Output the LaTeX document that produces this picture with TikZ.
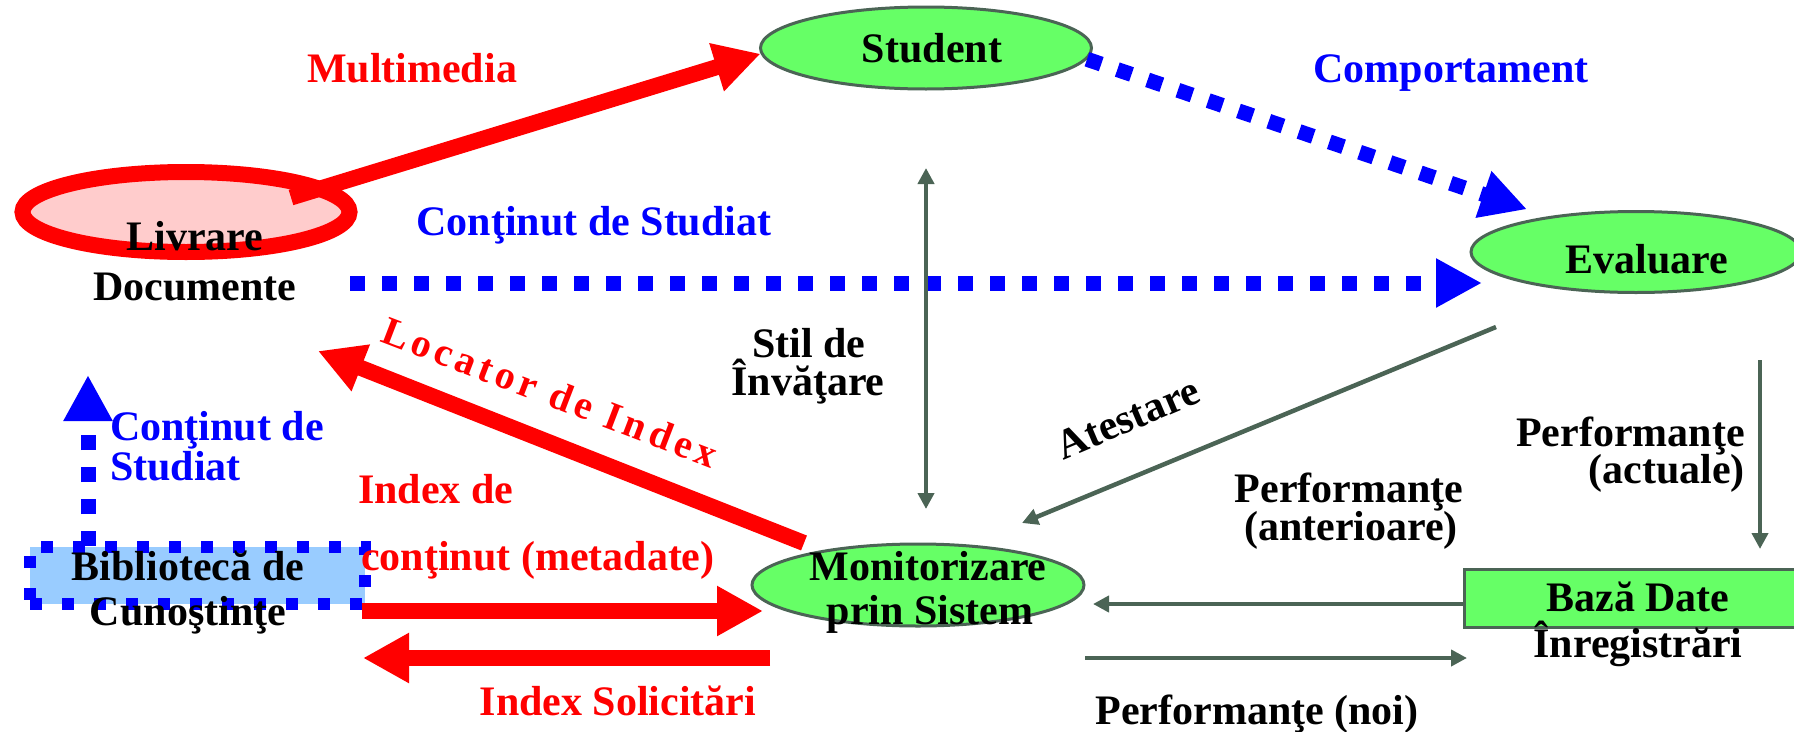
\documentclass[tikz,border=0pt]{standalone}
\usepackage{fontspec}
\setmainfont{Liberation Serif}
\usetikzlibrary{shapes.geometric,arrows.meta}
\definecolor{grfill}{RGB}{102,255,102}
\definecolor{grline}{RGB}{75,100,85}
\definecolor{pinkfill}{RGB}{255,204,204}
\definecolor{bluefill}{RGB}{153,204,255}
\definecolor{myred}{RGB}{255,0,0}
\definecolor{myblue}{RGB}{0,0,255}
\begin{document}
\begin{tikzpicture}[x=1pt,y=-1pt,
  txt/.style={inner sep=0pt,anchor=base,font=\fontsize{42}{46}\selectfont\bfseries},
  redtxt/.style={txt,text=myred},
  bluetxt/.style={txt,text=myblue},
  greenell/.style={ellipse,draw=grline,line width=3pt,fill=grfill,inner sep=0pt},
  redarrow/.style={draw=myred,line width=16pt,-{Triangle[length=46pt,width=47pt]}},
  bluedots/.style={draw=myblue,line width=15pt,dash pattern=on 15pt off 17pt,-{Triangle[length=46pt,width=46pt]}},
  grayarrow/.style={draw=grline,line width=4.5pt,-{Triangle[length=16pt,width=16pt]}}
]
\useasboundingbox (0,0) rectangle (1794,731);

% shapes
\node[ellipse,draw=myred,line width=16pt,fill=pinkfill,inner sep=0pt,minimum width=327pt,minimum height=80pt] (livrare) at (186,212) {};
\node[greenell,minimum width=331pt,minimum height=82pt] (student) at (926,48) {};
\node[greenell,minimum width=330pt,minimum height=81pt] (evaluare) at (1636,252) {};
\node[greenell,minimum width=332pt,minimum height=82pt] (monitor) at (918,585) {};
\node[rectangle,draw=grline,line width=3pt,fill=grfill,inner sep=0pt,minimum width=335pt,minimum height=58pt] (baza) at (1632,598) {};
\node[rectangle,draw=myblue,line width=12pt,dash pattern=on 12pt off 20pt,fill=bluefill,inner sep=0pt,minimum width=335pt,minimum height=57pt] (biblio) at (197.5,575.5) {};

% connector end points
\coordinate (lvS) at (291,197.5);
\coordinate (csA) at (350,283);
\coordinate (csB) at (1482,283);
\coordinate (bvA) at (88,546);
\coordinate (bvB) at (88,375);
\coordinate (svA) at (926,168);
\coordinate (svB) at (926,509);
\coordinate (atA) at (1496,327);
\coordinate (atB) at (1022,523);
\coordinate (paA) at (1760,360);
\coordinate (paB) at (1760,549);
\coordinate (bmA) at (1465,604);
\coordinate (bmB) at (1093,604);
\coordinate (mbA) at (1085,658);
\coordinate (mbB) at (1467,658);
\coordinate (irA) at (362,611);
\coordinate (irB) at (763,611);
\coordinate (isA) at (770,658);
\coordinate (isB) at (363,658);
\coordinate (loA) at (804,543);
\coordinate (loB) at (318,351);

% connectors
\draw[redarrow] (lvS) -- (student.182);
\draw[bluedots,shorten >=22pt] (student.356) -- (evaluare.158);
\draw[bluedots] (csA) -- (csB);
\draw[bluedots] (bvA) -- (bvB);
\draw[draw=grline,line width=4.5pt,{Triangle[length=16pt,width=16pt]}-{Triangle[length=16pt,width=16pt]}] (svA) -- (svB);
\draw[grayarrow] (atA) -- (atB);
\draw[grayarrow] (paA) -- (paB);
\draw[grayarrow] (bmA) -- (bmB);
\draw[grayarrow] (mbA) -- (mbB);
\draw[redarrow] (irA) -- (irB);
\draw[redarrow] (isA) -- (isB);
\draw[redarrow] (loA) -- (loB);

% texts
\node[txt] (tLiv1) at (195,250) {Livrare};
\node[txt] (tLiv2) at (195,300) {Documente};
\node[txt] (tStu) at (932,62) {Student};
\node[txt] (tEva) at (1647,273) {Evaluare};
\node[txt] (tMon1) at (928,580) {Monitorizare};
\node[txt] (tMon2) at (930,624) {prin Sistem};
\node[txt] (tBib1) at (188,580) {Bibliotecă de};
\node[txt] (tBib2) at (188,625) {Cunoştinţe};
\node[txt] (tBaz1) at (1638,611) {Bază Date};
\node[txt] (tBaz2) at (1638,657) {Înregistrări};
\node[bluetxt,anchor=base west] (tCs1) at (110,440) {Conţinut de};
\node[bluetxt,anchor=base west] (tCs2) at (110,480) {Studiat};
\node[redtxt] (tMul) at (412,82) {Multimedia};
\node[bluetxt] (tCom) at (1451,82) {Comportament};
\node[bluetxt] (tCsm) at (594,235) {Conţinut de Studiat};
\node[txt] (tSti1) at (809,357) {Stil de};
\node[txt] (tSti2) at (808,395) {Învăţare};
\node[txt,anchor=center,rotate=23] (tAte) at (1128,418) {Atestare};
\node[txt,anchor=base east] (tPa1) at (1745,446) {Performanţe};
\node[txt,anchor=base east] (tPa2) at (1745,483) {(actuale)};
\node[txt] (tPn1) at (1349,502) {Performanţe};
\node[txt] (tPn2) at (1351,540) {(anterioare)};
\node[redtxt,anchor=base west] (tIx1) at (358,503) {Index de};
\node[redtxt,anchor=base west] (tIx2) at (361,570) {conţinut (metadate)};
\node[redtxt] (tIs) at (618,715) {Index Solicitări};
\node[txt] (tPno) at (1257,724) {Performanţe (noi)};
\node[redtxt,anchor=center,rotate=-21,font=\fontsize{40}{44}\selectfont\bfseries\addfontfeature{LetterSpace=12}] (tLoc) at (550,392) {Locator de Index};
\end{tikzpicture}
\end{document}
